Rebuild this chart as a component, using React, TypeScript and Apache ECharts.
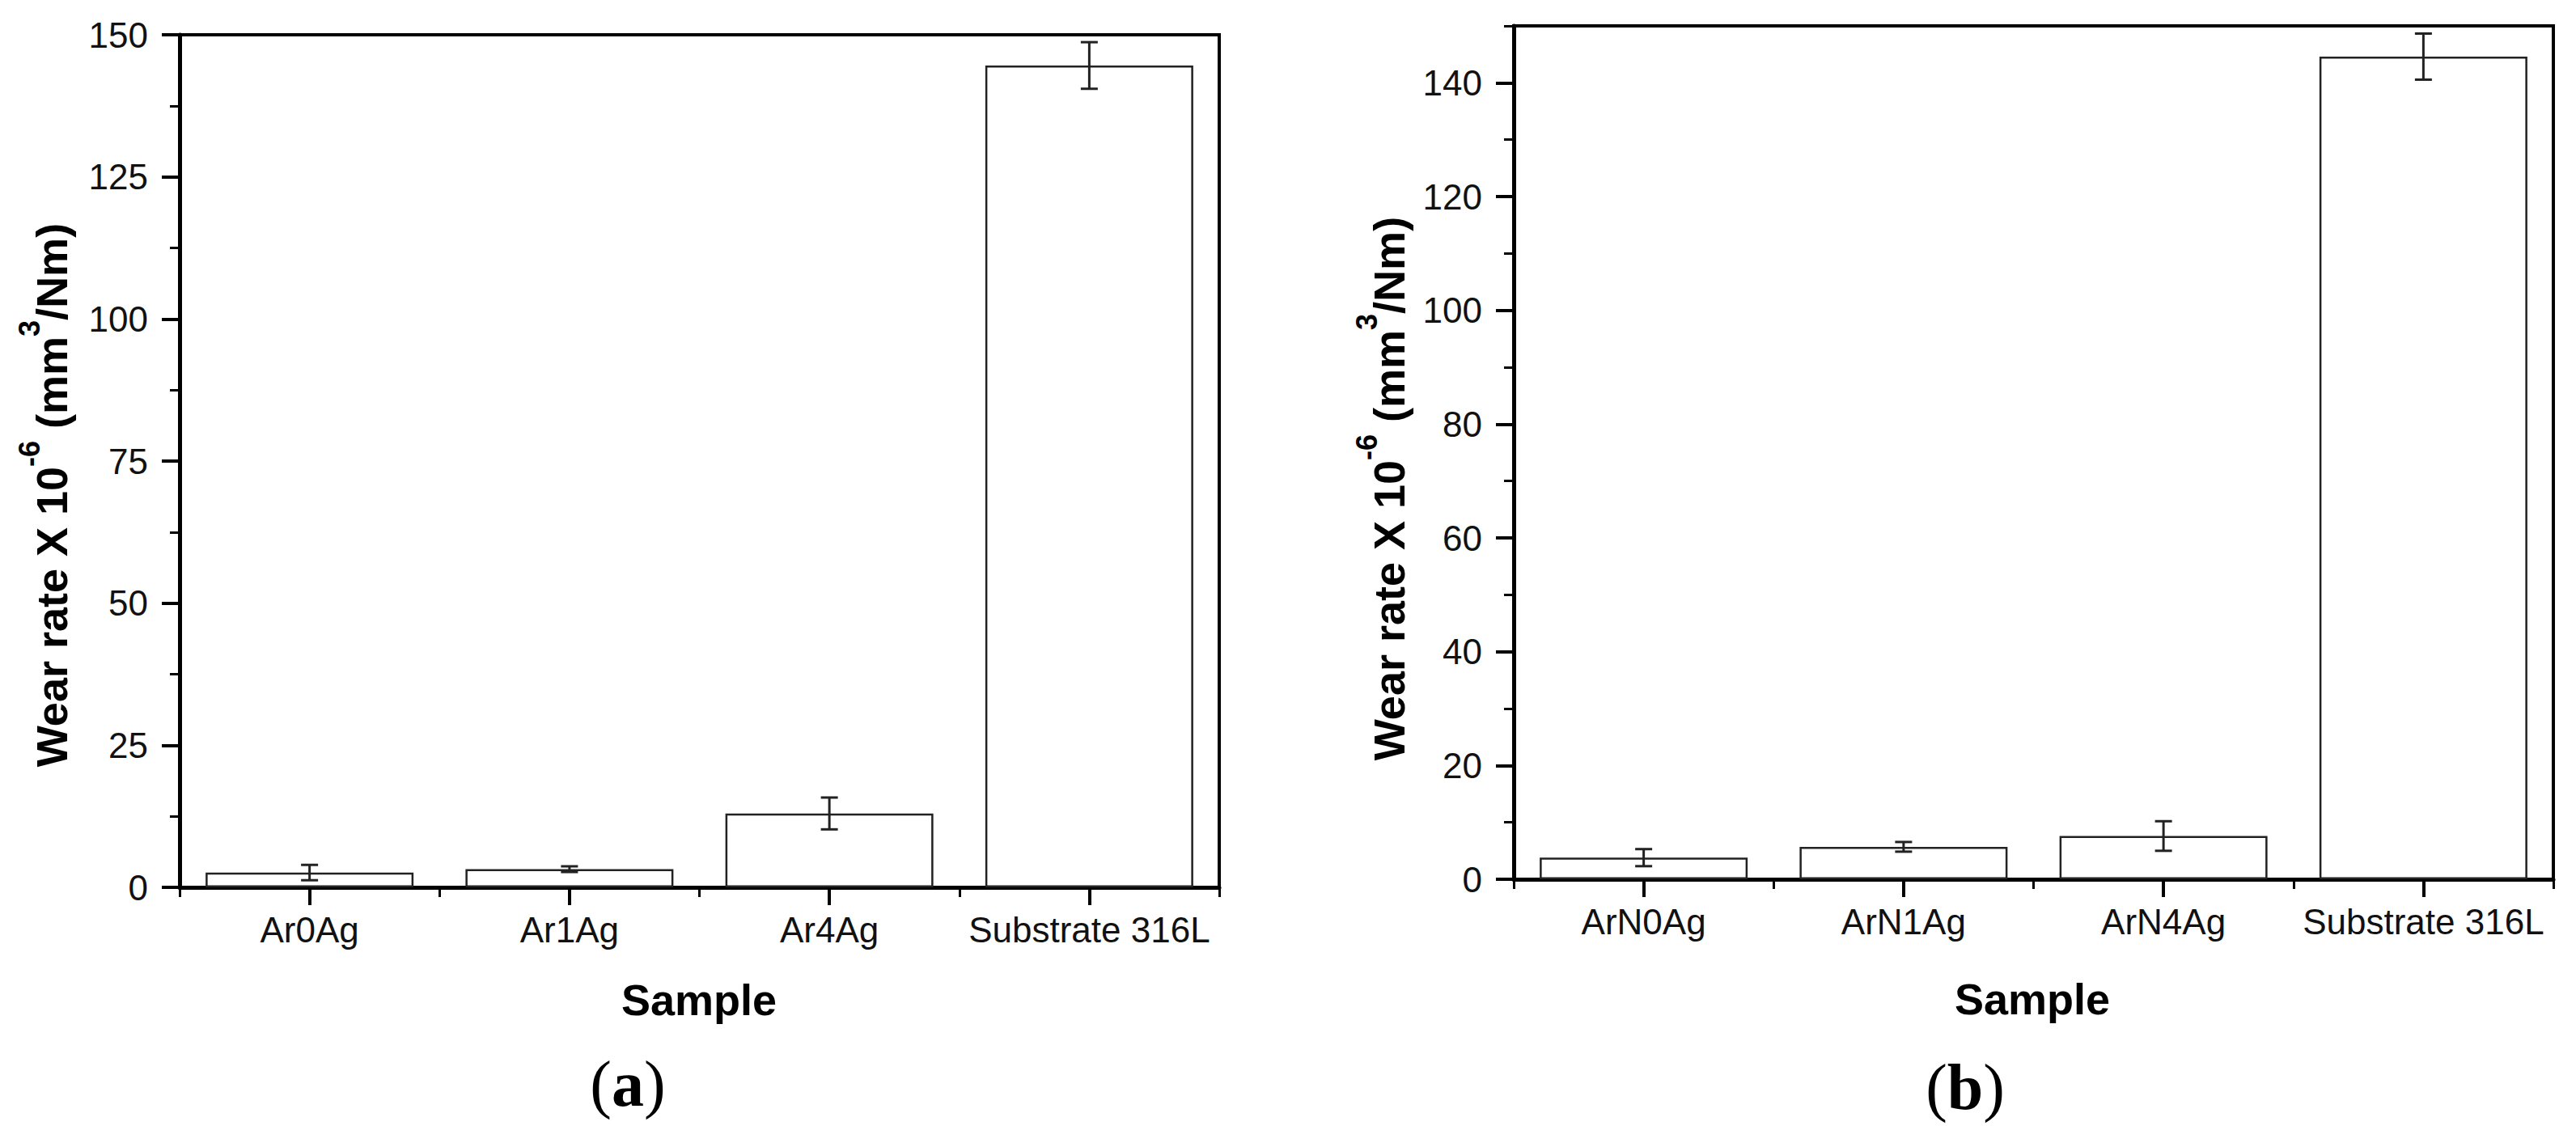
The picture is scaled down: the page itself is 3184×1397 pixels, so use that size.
import React, { useEffect, useRef } from 'react';
import * as echarts from 'echarts';

// ---- data ----
const categoriesA = ['Ar0Ag', 'Ar1Ag', 'Ar4Ag', 'Substrate 316L'];
const valuesA = [2.6, 3.2, 13.0, 144.6];
const errorsA = [1.35, 0.5, 2.8, 4.1];

const categoriesB = ['ArN0Ag', 'ArN1Ag', 'ArN4Ag', 'Substrate 316L'];
const valuesB = [3.8, 5.7, 7.6, 144.6];
const errorsB = [1.5, 0.85, 2.6, 4.05];

const yMin = 0;
const yMax = 150;
const yMajorA = 25;
const yMinorA = 12.5;
const yMajorB = 20;
const yMinorB = 10;

const xTitle = 'Sample';
const yTitle = 'Wear rate X 10{sup|-6} (mm{sup|3}/Nm)';
const panelA = '({b|a})';
const panelB = '({b|b})';

const SANS = 'Liberation Sans, Arial, sans-serif';
const SERIF = 'Liberation Serif, Times New Roman, serif';

function errData(vals: number[], errs: number[]) {
  return vals.map((v, i) => [i, v - errs[i], v + errs[i]]);
}

function renderErr(params: any, api: any) {
  const lo = api.coord([api.value(0), api.value(1)]);
  const hi = api.coord([api.value(0), api.value(2)]);
  const hw = 10.5;
  const st = { stroke: '#222', lineWidth: 3 };
  return {
    type: 'group',
    children: [
      { type: 'line', shape: { x1: lo[0], y1: lo[1], x2: hi[0], y2: hi[1] }, style: st },
      { type: 'line', shape: { x1: hi[0] - hw, y1: hi[1], x2: hi[0] + hw, y2: hi[1] }, style: st },
      { type: 'line', shape: { x1: lo[0] - hw, y1: lo[1], x2: lo[0] + hw, y2: lo[1] }, style: st },
    ],
  };
}

function mainX(gridIndex: number, data: string[]) {
  return {
    gridIndex,
    type: 'category',
    position: 'bottom',
    data,
    axisLine: { show: true, onZero: false, lineStyle: { color: '#000', width: 5 } },
    axisTick: { show: true, interval: 0, alignWithLabel: true, length: 22, lineStyle: { color: '#000', width: 4 } },
    axisLabel: { interval: 0, margin: 30, fontSize: 44, fontFamily: SANS, color: '#111' },
    splitLine: { show: false },
  };
}
function boundX(gridIndex: number, data: string[]) {
  return {
    gridIndex,
    type: 'category',
    position: 'bottom',
    data,
    axisLine: { show: false },
    axisTick: { show: true, interval: 0, alignWithLabel: false, length: 12, lineStyle: { color: '#000', width: 3 } },
    axisLabel: { show: false, interval: 0 },
    splitLine: { show: false },
  };
}
function mainY(gridIndex: number, interval: number, showMax: boolean) {
  return {
    gridIndex,
    type: 'value',
    position: 'left',
    min: yMin,
    max: yMax,
    interval,
    axisLine: { show: true, onZero: false, lineStyle: { color: '#000', width: 5 } },
    axisTick: { show: true, length: 22, lineStyle: { color: '#000', width: 4 } },
    axisLabel: { margin: 39, fontSize: 44, fontFamily: SANS, color: '#111', showMaxLabel: showMax },
    splitLine: { show: false },
  };
}
function minorY(gridIndex: number, interval: number) {
  return {
    gridIndex,
    type: 'value',
    position: 'left',
    min: yMin,
    max: yMax,
    interval,
    axisLine: { show: false },
    axisTick: { show: true, length: 12, lineStyle: { color: '#000', width: 3 } },
    axisLabel: { show: false },
    splitLine: { show: false },
  };
}

function yTitleGraphic(x: number, y: number) {
  return {
    type: 'text',
    x,
    y,
    rotation: Math.PI / 2,
    style: {
      text: yTitle,
      x: 0,
      y: 0,
      fontSize: 54,
      fontWeight: 'bold',
      fontFamily: SANS,
      fill: '#000',
      lineHeight: 92,
      align: 'center',
      verticalAlign: 'middle',
      rich: {
        sup: { fontSize: 36, fontWeight: 'bold', fontFamily: SANS, fill: '#000', lineHeight: 36, verticalAlign: 'top' },
      },
    },
  };
}
function xTitleGraphic(x: number, y: number) {
  return {
    type: 'text',
    x,
    y,
    style: {
      text: xTitle,
      fontSize: 54,
      fontWeight: 'bold',
      fontFamily: SANS,
      fill: '#000',
      align: 'center',
      verticalAlign: 'middle',
    },
  };
}
function panelGraphic(text: string, x: number, y: number) {
  return {
    type: 'text',
    x,
    y,
    style: {
      text,
      fontSize: 80,
      fontFamily: SERIF,
      fill: '#000',
      align: 'center',
      verticalAlign: 'middle',
      rich: { b: { fontSize: 80, fontFamily: SERIF, fontWeight: 'bold', fill: '#000' } },
    },
  };
}

export default function App() {
  const ref = useRef<HTMLDivElement>(null);
  useEffect(() => {
    if (!ref.current) return;
    const chart = echarts.init(ref.current, null, { renderer: 'svg' });
    const barStyle = { color: '#fff', borderColor: '#222', borderWidth: 2.5 };
    chart.setOption({
      animation: false,
      backgroundColor: '#fff',
      grid: [
        { left: 222, top: 43, width: 1285, height: 1054, show: true, borderColor: '#000', borderWidth: 4, backgroundColor: 'transparent' },
        { left: 1871, top: 32, width: 1285, height: 1055, show: true, borderColor: '#000', borderWidth: 4, backgroundColor: 'transparent' },
      ],
      xAxis: [mainX(0, categoriesA), boundX(0, categoriesA), mainX(1, categoriesB), boundX(1, categoriesB)],
      yAxis: [mainY(0, yMajorA, true), minorY(0, yMinorA), mainY(1, yMajorB, false), minorY(1, yMinorB)],
      series: [
        { type: 'bar', xAxisIndex: 0, yAxisIndex: 0, data: valuesA, barWidth: '80%', itemStyle: barStyle, z: 2 },
        { type: 'custom', xAxisIndex: 0, yAxisIndex: 0, data: errData(valuesA, errorsA), encode: { x: 0, y: [1, 2] }, renderItem: renderErr, z: 3 },
        { type: 'bar', xAxisIndex: 2, yAxisIndex: 2, data: valuesB, barWidth: '80%', itemStyle: barStyle, z: 2 },
        { type: 'custom', xAxisIndex: 2, yAxisIndex: 2, data: errData(valuesB, errorsB), encode: { x: 0, y: [1, 2] }, renderItem: renderErr, z: 3 },
      ],
      graphic: [
        yTitleGraphic(64, 612),
        yTitleGraphic(1717, 604),
        xTitleGraphic(864, 1236),
        xTitleGraphic(2512, 1235),
        panelGraphic(panelA, 776, 1340),
        panelGraphic(panelB, 2429, 1344),
      ],
    });
    return () => chart.dispose();
  }, []);
  return <div ref={ref} style={{ position: 'absolute', left: 0, top: 0, width: 3184, height: 1397 }} />;
}
